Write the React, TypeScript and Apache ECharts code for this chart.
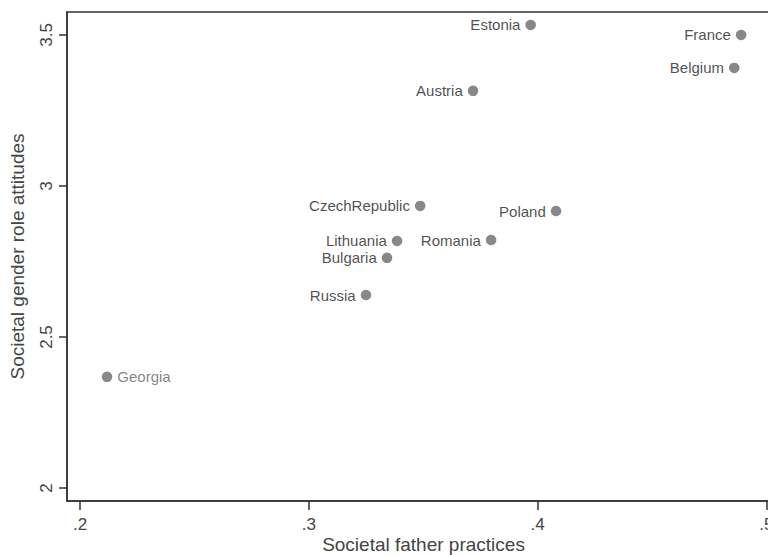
import React, { useEffect, useRef } from "react";
import * as echarts from "echarts";

const countries = ["Estonia", "France", "Belgium", "Austria", "CzechRepublic", "Poland", "Lithuania", "Romania", "Bulgaria", "Russia", "Georgia"];
const fatherPractices = [0.397, 0.489, 0.486, 0.3718, 0.3487, 0.4081, 0.3386, 0.3797, 0.3342, 0.325, 0.2118];
const genderAttitudes = [3.533, 3.5, 3.391, 3.315, 2.934, 2.917, 2.818, 2.821, 2.762, 2.639, 2.368];
const labelSide = ["left", "left", "left", "left", "left", "left", "left", "left", "left", "left", "right"];
const xTicks = [0.2, 0.3, 0.4, 0.5];
const yTicks = [2, 2.5, 3, 3.5];

const FONT = "Liberation Sans, Arial, sans-serif";

export default function App() {
  const ref = useRef<HTMLDivElement>(null);
  useEffect(() => {
    if (!ref.current) return;
    const chart = echarts.init(ref.current, null, { renderer: "svg" });
    const data = countries.map((c, i) => ({
      name: c,
      value: [fatherPractices[i], genderAttitudes[i]],
      label: {
        show: true,
        position: labelSide[i],
        distance: 5,
        formatter: c,
        color: labelSide[i] === "right" ? "#666" : "#1e1e1e",
        fontSize: 15,
        fontFamily: FONT,
      },
    }));
    chart.setOption({
      animation: false,
      backgroundColor: "#fff",
      grid: {
        left: 67,
        top: 12,
        right: 20,
        bottom: 54,
        outerBoundsMode: "none",
        containLabel: false,
        show: true,
        borderColor: "#333",
        borderWidth: 1.5,
        backgroundColor: "#fff",
      },
      xAxis: {
        type: "value",
        min: 0.1943,
        max: 0.506,
        name: "Societal father practices",
        nameLocation: "middle",
        nameGap: 34,
        nameMoveOverlap: false,
        nameTextStyle: { color: "#444", fontSize: 19, fontFamily: FONT },
        axisLine: { show: true, lineStyle: { color: "#333", width: 1.5 } },
        axisTick: { show: true, length: 9, customValues: xTicks, lineStyle: { color: "#333", width: 1.5 } },
        axisLabel: {
          customValues: xTicks,
          margin: 15,
          color: "#444",
          fontSize: 17,
          fontFamily: FONT,
          formatter: (v: number) => String(v).replace(/^0/, ""),
        },
        splitLine: { show: false },
      },
      yAxis: {
        type: "value",
        min: 1.957,
        max: 3.576,
        name: "Societal gender role attitudes",
        nameLocation: "middle",
        nameGap: 40,
        nameRotate: 90,
        nameTextStyle: { color: "#444", fontSize: 19, fontFamily: FONT },
        axisLine: { show: true, lineStyle: { color: "#333", width: 1.5 } },
        axisTick: { show: true, length: 8, customValues: yTicks, lineStyle: { color: "#333", width: 1.5 } },
        axisLabel: {
          customValues: yTicks,
          rotate: 90,
          margin: 12,
          color: "#444",
          fontSize: 17,
          fontFamily: FONT,
          formatter: (v: number) => String(v),
        },
        splitLine: { show: false },
      },
      series: [
        {
          type: "scatter",
          symbol: "circle",
          symbolSize: 10.5,
          itemStyle: { color: "#6a6a6a" },
          data,
        },
      ],
    });
    return () => chart.dispose();
  }, []);
  return (
    <div style={{ position: "fixed", left: 0, top: 0, width: 768, height: 555, overflow: "hidden" }}>
      <div ref={ref} style={{ width: 800, height: 555 }} />
    </div>
  );
}
